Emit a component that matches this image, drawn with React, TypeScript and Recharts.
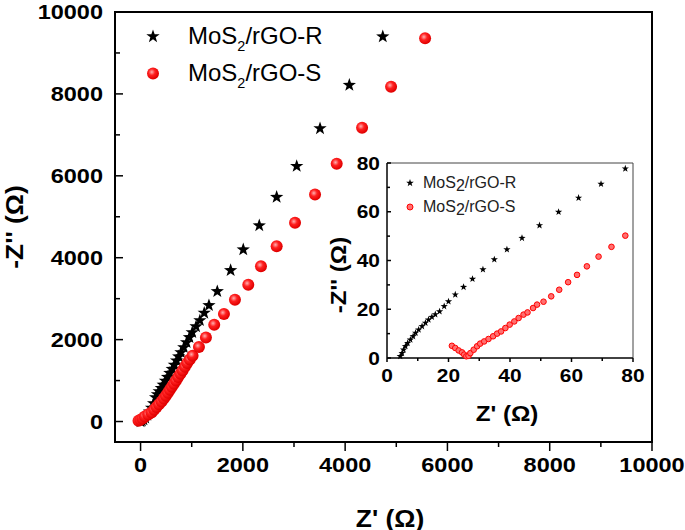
import { ScatterChart, Scatter, XAxis, YAxis, Legend, Label, ReferenceArea } from "recharts";

// Nyquist plot: main view (0..10 kOhm) plus a zoomed inset (0..80 Ohm).
const FONT = '"Liberation Sans", Arial, sans-serif';
const R_NAME = "MoS2/rGO-R";
const S_NAME = "MoS2/rGO-S";

const MAIN_MAJOR = [0, 2000, 4000, 6000, 8000, 10000];
const MAIN_MINOR = [1000, 3000, 5000, 7000, 9000];
const MAIN_DOMAIN = [-500, 10000];
const INSET_MAJOR = [0, 20, 40, 60, 80];
const INSET_MINOR = [10, 30, 50, 70];
const INSET_DOMAIN = [0, 80];

// main plot, Z' / -Z'' in Ohm
const mainR_re = [0, 25, 55, 90, 130, 175, 215, 255, 294, 330, 364, 405, 443, 485, 528, 573, 619, 660, 704, 745, 789, 845, 900, 955, 1010, 1085, 1160, 1245, 1337, 1500, 1761, 2008, 2321, 2661, 3053, 3509, 4082, 4736];
const mainR_im = [0, 15, 45, 90, 160, 240, 330, 440, 587, 660, 733, 815, 897, 990, 1085, 1183, 1281, 1380, 1484, 1585, 1687, 1810, 1932, 2055, 2176, 2320, 2469, 2650, 2836, 3178, 3692, 4198, 4785, 5480, 6235, 7156, 8215, 9399];
const mainS_re = [-40, 0, 40, 84, 150, 215, 265, 313, 360, 411, 455, 495, 535, 573, 612, 652, 694, 736, 780, 822, 867, 912, 962, 1017, 1141, 1278, 1440, 1630, 1845, 2106, 2354, 2661, 3020, 3411, 3835, 4331, 4898, 5563];
const mainS_im = [20, 42, 75, 122, 170, 220, 285, 352, 420, 489, 560, 628, 700, 775, 850, 922, 1000, 1085, 1165, 1247, 1335, 1428, 1515, 1606, 1819, 2054, 2364, 2625, 2976, 3342, 3790, 4281, 4851, 5543, 6293, 7173, 8176, 9357];

// inset, high-frequency region
const insetR_re = [4.3, 4.9, 5.4, 6.0, 6.7, 7.6, 8.5, 9.3, 10.3, 11.4, 12.5, 13.5, 14.6, 15.7, 17.1, 18.6, 20.0, 22.2, 24.9, 27.8, 31.2, 34.9, 39.0, 43.9, 49.6, 55.8, 62.3, 69.6, 77.5];
const insetR_im = [0.7, 2.0, 3.4, 4.8, 6.1, 7.5, 8.9, 10.3, 11.6, 13.0, 14.4, 15.7, 16.8, 17.9, 19.1, 21.2, 23.2, 26.0, 29.1, 32.4, 36.3, 40.4, 44.5, 49.2, 54.4, 59.9, 65.7, 71.4, 77.7];
const insetS_re = [21.1, 22.2, 23.3, 24.4, 25.1, 25.8, 26.5, 27.1, 28.2, 29.3, 30.3, 31.6, 33.0, 34.5, 35.8, 37.1, 38.5, 39.9, 41.4, 42.8, 44.4, 45.7, 47.5, 48.8, 50.9, 53.4, 56.0, 58.9, 61.8, 65.0, 68.8, 73.0, 77.5];
const insetS_im = [5.0, 4.1, 3.1, 2.3, 1.4, 0.7, 0.9, 2.0, 3.4, 4.8, 5.9, 6.8, 7.8, 8.9, 10.0, 10.9, 12.3, 13.7, 15.0, 16.4, 17.8, 18.7, 20.5, 21.9, 23.1, 25.3, 28.0, 31.1, 34.1, 37.6, 41.6, 45.6, 50.2];

const pts = (xs: number[], ys: number[]) => xs.map((x, i) => ({ x, y: ys[i] }));

function starPath(cx: number, cy: number, R: number) {
  const r = R * 0.4;
  let d = "";
  for (let i = 0; i < 10; i++) {
    const rad = i % 2 === 0 ? R : r;
    const a = -Math.PI / 2 + (i * Math.PI) / 5;
    d += (i === 0 ? "M" : "L") + (cx + rad * Math.cos(a)).toFixed(2) + "," + (cy + rad * Math.sin(a)).toFixed(2);
  }
  return d + "Z";
}

// tick with its own tick line so minor ticks can go unlabeled
const BottomTick = (p: any) => {
  const { x, y, payload, majors, majorLen, minorLen, gap, fontSize, sx } = p;
  const major = majors.includes(payload.value);
  return (
    <g>
      <line x1={x} x2={x} y1={y} y2={y + (major ? majorLen : minorLen)} stroke="#000" strokeWidth={1.5} />
      {major && (
        <text
          x={0}
          y={0}
          transform={`translate(${x},${y + gap}) scale(${sx},1)`}
          textAnchor="middle"
          dominantBaseline="central"
          fontSize={fontSize}
          fontWeight="bold"
          fontFamily={FONT}
          fill="#000"
        >
          {payload.value}
        </text>
      )}
    </g>
  );
};

const LeftTick = (p: any) => {
  const { x, y, payload, majors, majorLen, minorLen, gap, fontSize, sx } = p;
  const major = majors.includes(payload.value);
  return (
    <g>
      <line x1={x} x2={x + (major ? majorLen : minorLen)} y1={y} y2={y} stroke="#000" strokeWidth={1.5} />
      {major && (
        <text
          x={0}
          y={0}
          transform={`translate(${x - gap},${y}) scale(${sx},1)`}
          textAnchor="end"
          dominantBaseline="central"
          fontSize={fontSize}
          fontWeight="bold"
          fontFamily={FONT}
          fill="#000"
        >
          {payload.value}
        </text>
      )}
    </g>
  );
};

const NameText = ({ name, sub }: { name: string; sub: boolean }) => {
  const [a, b] = name.split("2");
  return (
    <span>
      {a}
      {sub ? (
        <span style={{ fontSize: "0.6em", position: "relative", top: 7 }}>2</span>
      ) : (
        <span style={{ position: "relative", top: 3 }}>2</span>
      )}
      {b}
    </span>
  );
};

const makeLegend =
  (opts: { size: number; rowH: number; iconW: number; gap: number; sub: boolean; starR: number; dotR: number; ballFill: string; color: string }) =>
  ({ payload }: any) => (
    <div style={{ fontFamily: FONT, fontSize: opts.size, color: opts.color, lineHeight: 1 }}>
      {(payload || []).map((e: any) => (
        <div key={e.value} style={{ display: "flex", alignItems: "center", height: opts.rowH, whiteSpace: "nowrap" }}>
          <svg width={opts.iconW} height={opts.rowH}>
            {e.value === R_NAME ? (
              <path d={starPath(opts.iconW / 2, opts.rowH / 2, opts.starR)} fill="#000" />
            ) : (
              <circle cx={opts.iconW / 2} cy={opts.rowH / 2} r={opts.dotR} fill={opts.ballFill} stroke="#f00" strokeWidth={opts.sub ? 0 : 1} />
            )}
          </svg>
          <span style={{ marginLeft: opts.gap }}>
            <NameText name={e.value} sub={opts.sub} />
          </span>
        </div>
      ))}
    </div>
  );

const MainLegend = makeLegend({ size: 24, rowH: 37, iconW: 36, gap: 17, sub: true, starR: 7, dotR: 6, ballFill: "url(#ballLegend)", color: "#000" });
const InsetLegend = makeLegend({ size: 16, rowH: 24, iconW: 20, gap: 3, sub: false, starR: 4, dotR: 3, ballFill: "#ff7070", color: "#222" });

const BallDefs = ({ id }: { id: string }) => (
  <radialGradient id={id} cx="40%" cy="38%" r="60%">
    <stop offset="0%" stopColor="#ffb0b0" />
    <stop offset="45%" stopColor="#ff2020" />
    <stop offset="100%" stopColor="#e00000" />
  </radialGradient>
);

const axisLabel = (text: string, x: number, y: number, size: number, rotate = false) => () => (
  <text
    x={0}
    y={0}
    transform={`translate(${x},${y}) ${rotate ? "rotate(-90)" : ""} scale(1.1,1)`}
    textAnchor="middle"
    dominantBaseline="central"
    fontSize={size}
    fontWeight="bold"
    fontFamily={FONT}
    fill="#000"
  >
    {text}
  </text>
);

export default function App() {
  const mainR = pts(mainR_re, mainR_im);
  const mainS = pts(mainS_re, mainS_im);
  const insetR = pts(insetR_re, insetR_im);
  const insetS = pts(insetS_re, insetS_im);
  const mainTicks = [...MAIN_MAJOR, ...MAIN_MINOR].sort((a, b) => a - b);
  const insetTicks = [...INSET_MAJOR, ...INSET_MINOR].sort((a, b) => a - b);

  return (
    <div style={{ position: "absolute", left: 0, top: 0, width: 685, height: 530, background: "#fff" }}>
      <svg width={0} height={0} style={{ position: "absolute" }}>
        <defs>
          <BallDefs id="ballLegend" />
        </defs>
      </svg>
      <div style={{ position: "absolute", left: 0, top: 0 }}>
        <ScatterChart width={685} height={530} margin={{ top: 12, right: 33, bottom: 0, left: 0 }}>
          <defs>
            <BallDefs id="ball" />
          </defs>
          <XAxis
            type="number"
            dataKey="x"
            domain={MAIN_DOMAIN}
            ticks={mainTicks}
            interval={0}
            height={88}
            tickSize={0}
            tickMargin={0}
            tickLine={false}
            axisLine={{ stroke: "#000", strokeWidth: 2 }}
            tick={<BottomTick majors={MAIN_MAJOR} majorLen={9} minorLen={5} gap={23} fontSize={21} sx={1.12} />}
          >
            <Label content={axisLabel("Z' (\u03A9)", 390, 518, 24)} />
          </XAxis>
          <YAxis
            type="number"
            dataKey="y"
            domain={MAIN_DOMAIN}
            ticks={mainTicks}
            interval={0}
            width={115}
            tickSize={0}
            tickMargin={0}
            tickLine={false}
            axisLine={{ stroke: "#000", strokeWidth: 2 }}
            tick={<LeftTick majors={MAIN_MAJOR} majorLen={8} minorLen={5} gap={12} fontSize={21} sx={1.12} />}
          >
            <Label content={axisLabel("-Z'' (\u03A9)", 14, 227, 24, true)} />
          </YAxis>
          {/* plot frame */}
          <ReferenceArea
            x1={MAIN_DOMAIN[0]}
            x2={MAIN_DOMAIN[1]}
            y1={MAIN_DOMAIN[0]}
            y2={MAIN_DOMAIN[1]}
            fill="none"
            fillOpacity={0}
            stroke="#000"
            strokeWidth={2}
            ifOverflow="visible"
          />
          <Legend
            layout="horizontal"
            verticalAlign="middle"
            align="center"
            content={MainLegend}
            wrapperStyle={{ left: 135, top: 17.5, width: 260, height: 80 }}
          />
          <Scatter
            name={R_NAME}
            data={mainR}
            fill="#000"
            isAnimationActive={false}
            shape={(p: any) => <path d={starPath(p.cx, p.cy, 7)} fill="#000" />}
          />
          <Scatter
            name={S_NAME}
            data={mainS}
            fill="#f00"
            isAnimationActive={false}
            shape={(p: any) => <circle cx={p.cx} cy={p.cy} r={6} fill="url(#ball)" />}
          />
        </ScatterChart>
      </div>

      {/* inset: 0..80 Ohm */}
      <div style={{ position: "absolute", left: 300, top: 150 }}>
        <ScatterChart width={350} height={280} margin={{ top: 13, right: 17, bottom: 0, left: 0 }}>
          <XAxis
            type="number"
            dataKey="x"
            domain={INSET_DOMAIN}
            ticks={insetTicks}
            interval={0}
            height={72}
            tickSize={0}
            tickMargin={0}
            tickLine={false}
            axisLine={{ stroke: "#222", strokeWidth: 1.5 }}
            tick={<BottomTick majors={INSET_MAJOR} majorLen={4} minorLen={3} gap={17} fontSize={19} sx={1.1} />}
          >
            <Label content={axisLabel("Z' (\u03A9)", 207, 263, 22)} />
          </XAxis>
          <YAxis
            type="number"
            dataKey="y"
            domain={INSET_DOMAIN}
            ticks={insetTicks}
            interval={0}
            width={87}
            tickSize={0}
            tickMargin={0}
            tickLine={false}
            axisLine={{ stroke: "#222", strokeWidth: 1.5 }}
            tick={<LeftTick majors={INSET_MAJOR} majorLen={4} minorLen={3} gap={7} fontSize={19} sx={1.1} />}
          >
            <Label content={axisLabel("-Z'' (\u03A9)", 38, 125, 22, true)} />
          </YAxis>
          <ReferenceArea
            x1={INSET_DOMAIN[0]}
            x2={INSET_DOMAIN[1]}
            y1={INSET_DOMAIN[0]}
            y2={INSET_DOMAIN[1]}
            fill="none"
            fillOpacity={0}
            stroke="#444"
            strokeWidth={1}
            ifOverflow="visible"
          />
          <Legend
            layout="horizontal"
            verticalAlign="middle"
            align="center"
            content={InsetLegend}
            wrapperStyle={{ left: 100, top: 21, width: 200, height: 50 }}
          />
          <Scatter
            name={R_NAME}
            data={insetR}
            fill="#000"
            isAnimationActive={false}
            shape={(p: any) => <path d={starPath(p.cx, p.cy, 3.8)} fill="#000" />}
          />
          <Scatter
            name={S_NAME}
            data={insetS}
            fill="#f00"
            isAnimationActive={false}
            shape={(p: any) => <circle cx={p.cx} cy={p.cy} r={2.8} fill="#ff7070" stroke="#f00" strokeWidth={1} />}
          />
        </ScatterChart>
      </div>
    </div>
  );
}
